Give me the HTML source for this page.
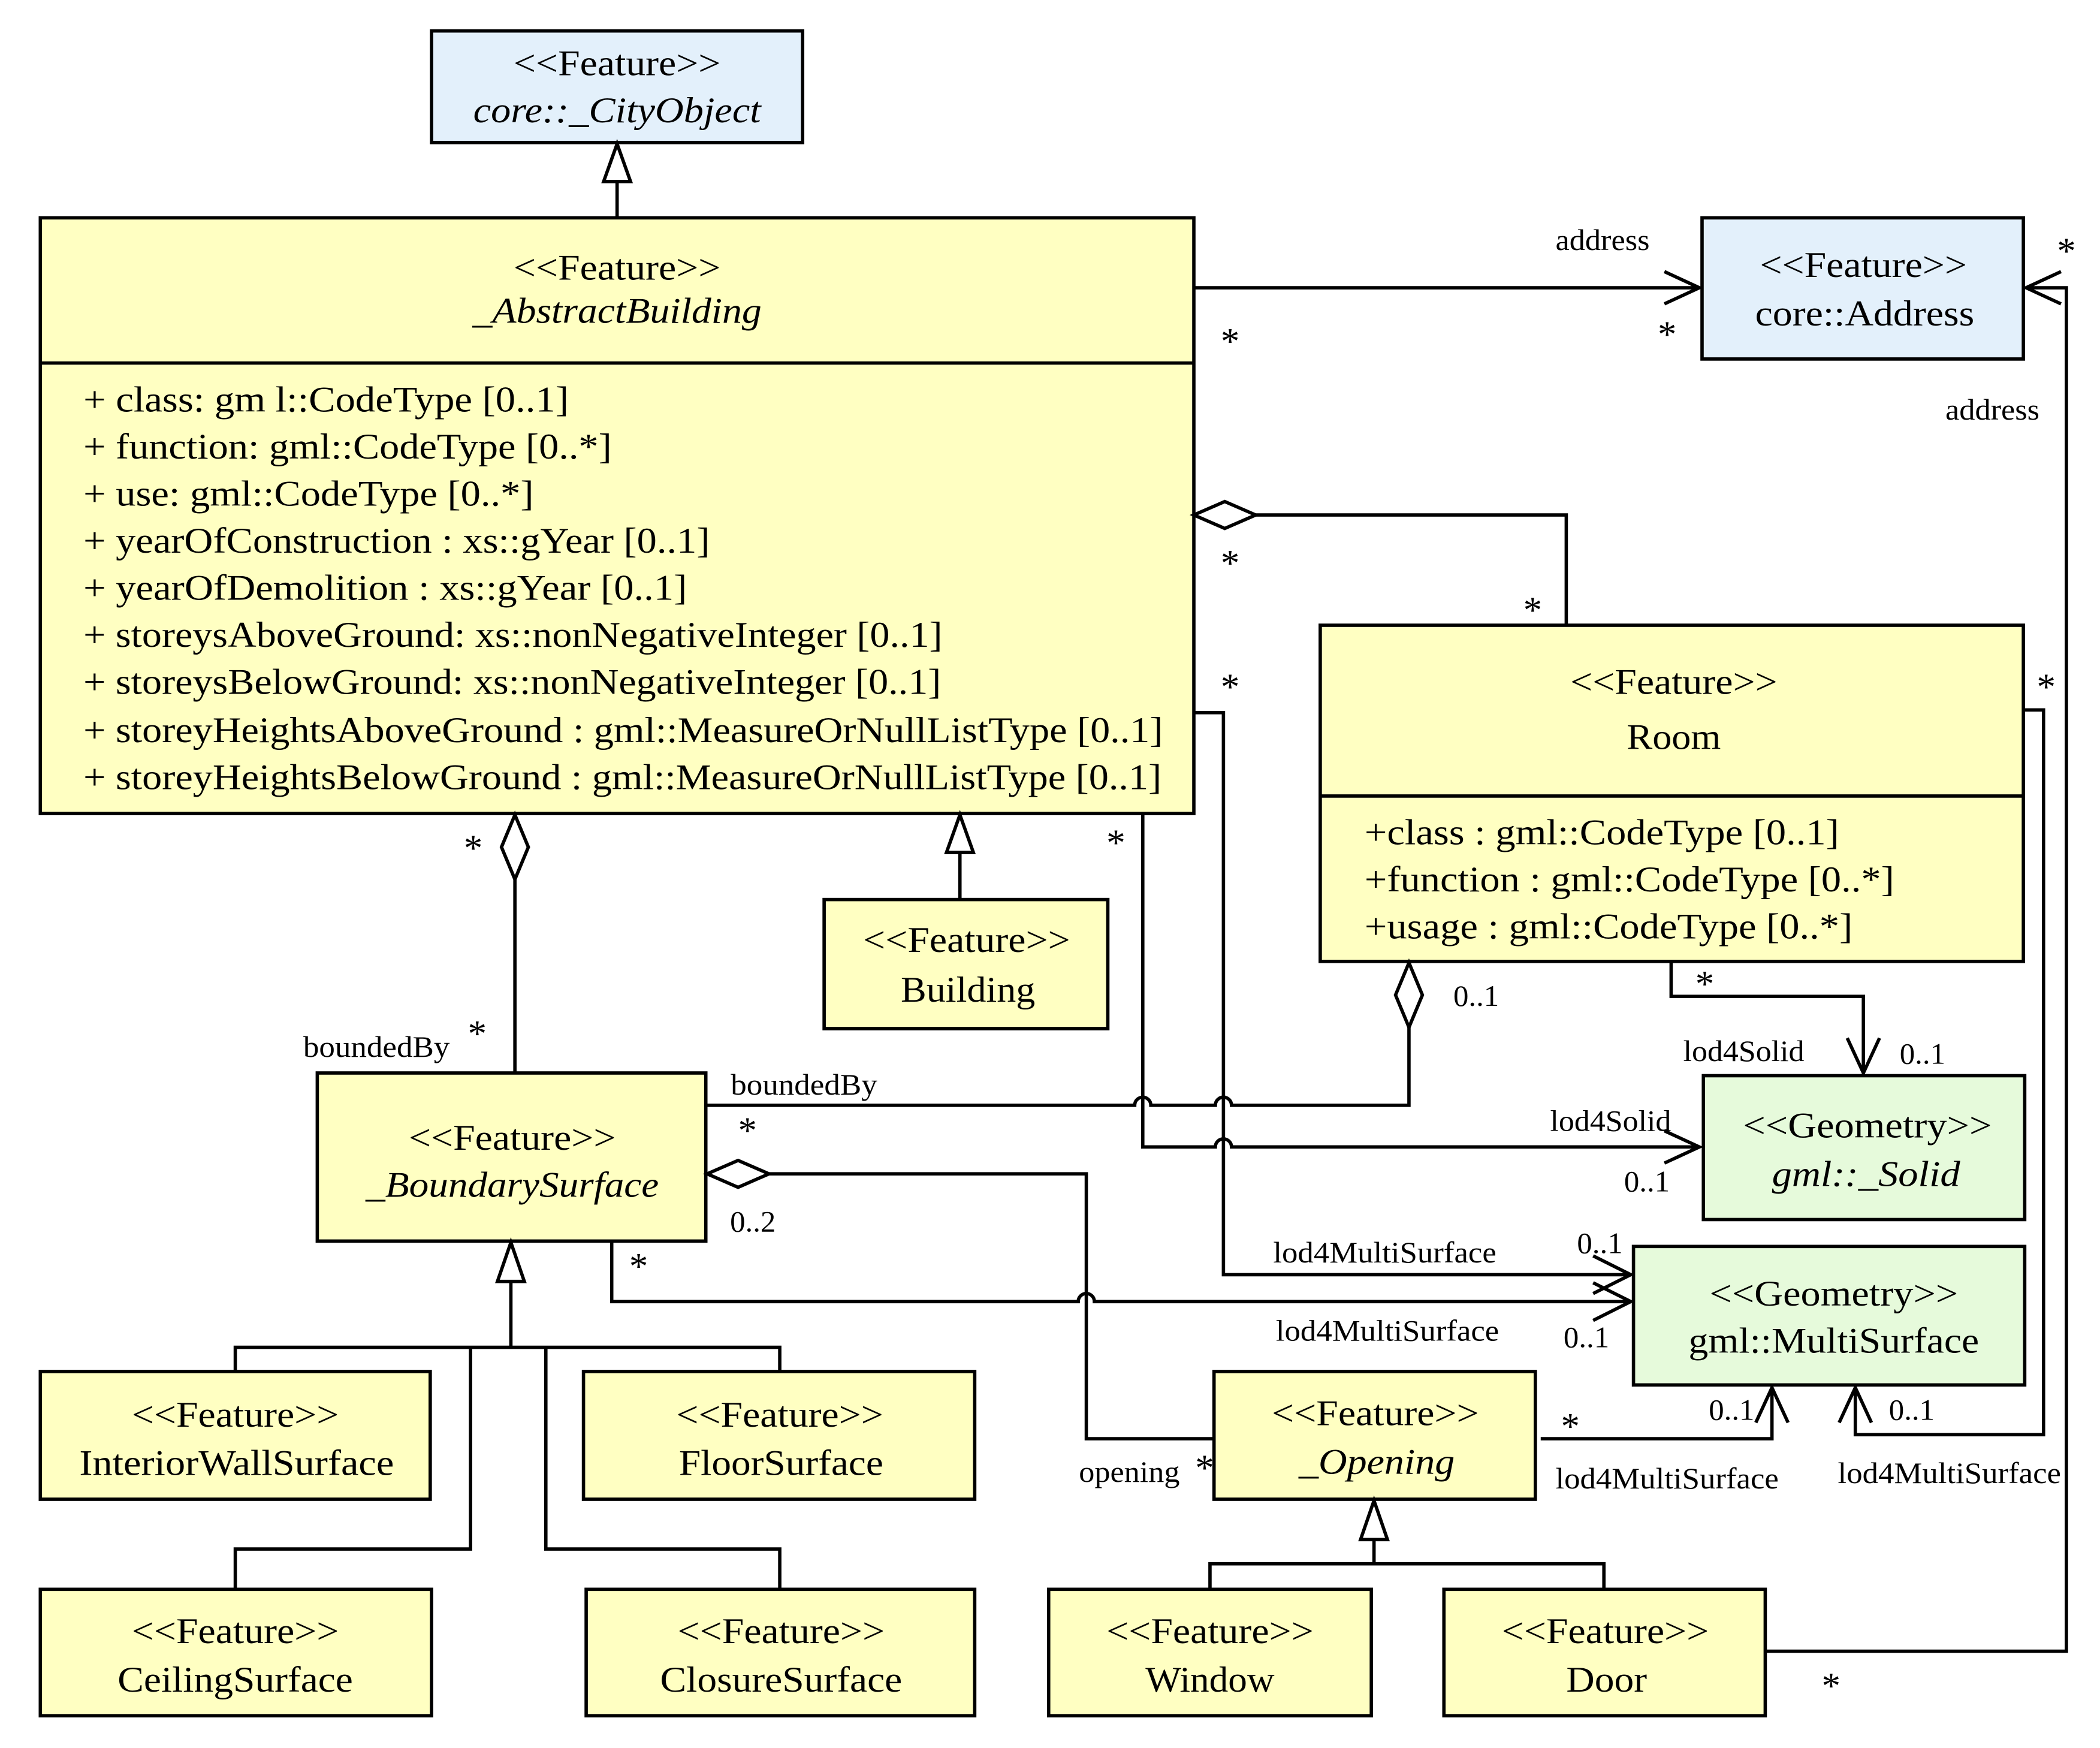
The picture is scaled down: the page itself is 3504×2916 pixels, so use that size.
<!DOCTYPE html>
<html><head><meta charset="utf-8"><style>html,body{margin:0;padding:0;background:#fff}svg{display:block}</style></head>
<body>
<svg xmlns="http://www.w3.org/2000/svg" width="3504" height="2916" viewBox="0 0 1562 1300" preserveAspectRatio="none" font-family="'Liberation Serif', serif" fill="#000">
<g stroke="#000" stroke-width="2.5">
<rect x="321" y="23" width="276" height="83" fill="#e3f0fb"/>
<rect x="30" y="162" width="858" height="443" fill="#ffffc2"/>
<line x1="30" y1="270" x2="888" y2="270"/>
<rect x="1266" y="162" width="239" height="105" fill="#e3f0fb"/>
<rect x="982" y="465" width="523" height="250" fill="#ffffc2"/>
<line x1="982" y1="592" x2="1505" y2="592"/>
<rect x="1267" y="800" width="239" height="107" fill="#e6fadb"/>
<rect x="1215" y="927" width="291" height="103" fill="#e6fadb"/>
<rect x="613" y="669" width="211" height="96" fill="#ffffc2"/>
<rect x="236" y="798" width="289" height="125" fill="#ffffc2"/>
<rect x="30" y="1020" width="290" height="95" fill="#ffffc2"/>
<rect x="434" y="1020" width="291" height="95" fill="#ffffc2"/>
<rect x="30" y="1182" width="291" height="94" fill="#ffffc2"/>
<rect x="436" y="1182" width="289" height="94" fill="#ffffc2"/>
<rect x="903" y="1020" width="239" height="95" fill="#ffffc2"/>
<rect x="780" y="1182" width="240" height="94" fill="#ffffc2"/>
<rect x="1074" y="1182" width="239" height="94" fill="#ffffc2"/>
</g>
<g stroke="#000" stroke-width="2.5" fill="none">
<line x1="459" y1="162" x2="459" y2="135"/><polygon points="459,107 449,135 469,135" fill="#fff"/>
<line x1="714" y1="669" x2="714" y2="634"/><polygon points="714,606 704,634 724,634" fill="#fff"/>
<polygon points="380,924 370,953 390,953" fill="#fff"/>
<path d="M380,953 V1002 M175,1020 V1002 H580 V1020 M350,1002 V1152 H175 V1182 M406,1002 V1152 H580 V1182"/>
<polygon points="1022,1116 1012,1145 1032,1145" fill="#fff"/>
<path d="M1022,1145 V1163 M900,1182 V1163 H1193 V1182"/>
<path d="M888,214 H1264 M1238,202 L1264,214 L1238,226"/>
<path d="M1313,1228 H1537 V214 H1507 M1533,202 L1507,214 L1533,226"/>
<polygon points="888,383 911,373 934,383 911,393" fill="#fff"/>
<path d="M934,383 H1165 V465"/>
<path d="M888,530 H910 V948 H1213 M1185,934 L1213,948 L1185,962"/>
<path d="M850,605 V853 H904 a6,6 0 0 1 12,0 H1264 M1238,841 L1264,853 L1238,865"/>
<path d="M1243,715 V741 H1386 V798 M1374,772 L1386,798 L1398,772"/>
<polygon points="1048,716 1038,740 1048,764 1058,740" fill="#fff"/>
<path d="M1048,764 V822 H916 a6,6 0 0 0 -12,0 H856 a6,6 0 0 0 -12,0 H526"/>
<path d="M1505,528 H1520 V1067 H1380 V1032 M1368,1058 L1380,1032 L1392,1058"/>
<polygon points="383,606 373,630 383,654 393,630" fill="#fff"/>
<path d="M383,654 V798"/>
<polygon points="526,873 549,863 572,873 549,883" fill="#fff"/>
<path d="M572,873 H808 V1070 H903"/>
<path d="M455,923 V968 H802 a6,6 0 0 1 12,0 H1213 M1185,954 L1213,968 L1185,982"/>
<path d="M1146,1070 H1318 V1032 M1306,1058 L1318,1032 L1330,1058"/>
</g>
<g font-size="27" text-anchor="middle">
<text lengthAdjust="spacingAndGlyphs" x="459" y="56" textLength="154">&lt;&lt;Feature&gt;&gt;</text><text lengthAdjust="spacingAndGlyphs" x="459" y="91" font-style="italic" textLength="214">core::_CityObject</text>
<text lengthAdjust="spacingAndGlyphs" x="459" y="208" textLength="154">&lt;&lt;Feature&gt;&gt;</text><text lengthAdjust="spacingAndGlyphs" x="459" y="240" font-style="italic" textLength="215">_AbstractBuilding</text>
<text lengthAdjust="spacingAndGlyphs" x="1386" y="206" textLength="154">&lt;&lt;Feature&gt;&gt;</text><text lengthAdjust="spacingAndGlyphs" x="1387" y="242" textLength="163">core::Address</text>
<text lengthAdjust="spacingAndGlyphs" x="1245" y="516" textLength="154">&lt;&lt;Feature&gt;&gt;</text><text lengthAdjust="spacingAndGlyphs" x="1245" y="557" textLength="70">Room</text>
<text lengthAdjust="spacingAndGlyphs" x="1389" y="846" textLength="185">&lt;&lt;Geometry&gt;&gt;</text><text lengthAdjust="spacingAndGlyphs" x="1388" y="882" font-style="italic" textLength="140">gml::_Solid</text>
<text lengthAdjust="spacingAndGlyphs" x="1364" y="971" textLength="185">&lt;&lt;Geometry&gt;&gt;</text><text lengthAdjust="spacingAndGlyphs" x="1364" y="1006" textLength="216">gml::MultiSurface</text>
<text lengthAdjust="spacingAndGlyphs" x="719" y="708" textLength="154">&lt;&lt;Feature&gt;&gt;</text><text lengthAdjust="spacingAndGlyphs" x="720" y="745" textLength="100">Building</text>
<text lengthAdjust="spacingAndGlyphs" x="381" y="855" textLength="154">&lt;&lt;Feature&gt;&gt;</text><text lengthAdjust="spacingAndGlyphs" x="381" y="890" font-style="italic" textLength="218">_BoundarySurface</text>
<text lengthAdjust="spacingAndGlyphs" x="175" y="1061" textLength="154">&lt;&lt;Feature&gt;&gt;</text><text lengthAdjust="spacingAndGlyphs" x="176" y="1097" textLength="234">InteriorWallSurface</text>
<text lengthAdjust="spacingAndGlyphs" x="580" y="1061" textLength="154">&lt;&lt;Feature&gt;&gt;</text><text lengthAdjust="spacingAndGlyphs" x="581" y="1097" textLength="152">FloorSurface</text>
<text lengthAdjust="spacingAndGlyphs" x="175" y="1222" textLength="154">&lt;&lt;Feature&gt;&gt;</text><text lengthAdjust="spacingAndGlyphs" x="175" y="1258" textLength="175">CeilingSurface</text>
<text lengthAdjust="spacingAndGlyphs" x="581" y="1222" textLength="154">&lt;&lt;Feature&gt;&gt;</text><text lengthAdjust="spacingAndGlyphs" x="581" y="1258" textLength="180">ClosureSurface</text>
<text lengthAdjust="spacingAndGlyphs" x="1023" y="1060" textLength="154">&lt;&lt;Feature&gt;&gt;</text><text lengthAdjust="spacingAndGlyphs" x="1024" y="1096" font-style="italic" textLength="116">_Opening</text>
<text lengthAdjust="spacingAndGlyphs" x="900" y="1222" textLength="154">&lt;&lt;Feature&gt;&gt;</text><text lengthAdjust="spacingAndGlyphs" x="900" y="1258" textLength="96">Window</text>
<text lengthAdjust="spacingAndGlyphs" x="1194" y="1222" textLength="154">&lt;&lt;Feature&gt;&gt;</text><text lengthAdjust="spacingAndGlyphs" x="1195" y="1258" textLength="60">Door</text>
</g>
<g font-size="27">
<text lengthAdjust="spacingAndGlyphs" x="62" y="306" textLength="361">+ class: gm l::CodeType [0..1]</text>
<text lengthAdjust="spacingAndGlyphs" x="62" y="341" textLength="393">+ function: gml::CodeType [0..*]</text>
<text lengthAdjust="spacingAndGlyphs" x="62" y="376" textLength="335">+ use: gml::CodeType [0..*]</text>
<text lengthAdjust="spacingAndGlyphs" x="62" y="411" textLength="466">+ yearOfConstruction : xs::gYear [0..1]</text>
<text lengthAdjust="spacingAndGlyphs" x="62" y="446" textLength="449">+ yearOfDemolition : xs::gYear [0..1]</text>
<text lengthAdjust="spacingAndGlyphs" x="62" y="481" textLength="639">+ storeysAboveGround: xs::nonNegativeInteger [0..1]</text>
<text lengthAdjust="spacingAndGlyphs" x="62" y="516" textLength="638">+ storeysBelowGround: xs::nonNegativeInteger [0..1]</text>
<text lengthAdjust="spacingAndGlyphs" x="62" y="552" textLength="803">+ storeyHeightsAboveGround : gml::MeasureOrNullListType [0..1]</text>
<text lengthAdjust="spacingAndGlyphs" x="62" y="587" textLength="802">+ storeyHeightsBelowGround : gml::MeasureOrNullListType [0..1]</text>
<text lengthAdjust="spacingAndGlyphs" x="1015" y="628" textLength="353">+class : gml::CodeType [0..1]</text>
<text lengthAdjust="spacingAndGlyphs" x="1015" y="663" textLength="394">+function : gml::CodeType [0..*]</text>
<text lengthAdjust="spacingAndGlyphs" x="1015" y="698" textLength="363">+usage : gml::CodeType [0..*]</text>
</g>
<g font-size="22" text-anchor="middle">
<text lengthAdjust="spacingAndGlyphs" x="1192" y="186" textLength="70">address</text>
<text lengthAdjust="spacingAndGlyphs" x="1482" y="312" textLength="70">address</text>
<text lengthAdjust="spacingAndGlyphs" x="280" y="786" textLength="109">boundedBy</text>
<text lengthAdjust="spacingAndGlyphs" x="598" y="814" textLength="109">boundedBy</text>
<text lengthAdjust="spacingAndGlyphs" x="1297" y="789" textLength="90">lod4Solid</text>
<text lengthAdjust="spacingAndGlyphs" x="1198" y="841" textLength="90">lod4Solid</text>
<text lengthAdjust="spacingAndGlyphs" x="1030" y="939" textLength="166">lod4MultiSurface</text>
<text lengthAdjust="spacingAndGlyphs" x="1032" y="997" textLength="166">lod4MultiSurface</text>
<text lengthAdjust="spacingAndGlyphs" x="1240" y="1107" textLength="166">lod4MultiSurface</text>
<text lengthAdjust="spacingAndGlyphs" x="1450" y="1103" textLength="166">lod4MultiSurface</text>
<text lengthAdjust="spacingAndGlyphs" x="840" y="1102" textLength="75">opening</text>
<text lengthAdjust="spacingAndGlyphs" x="1098" y="748" textLength="34">0..1</text>
<text lengthAdjust="spacingAndGlyphs" x="1430" y="791" textLength="34">0..1</text>
<text lengthAdjust="spacingAndGlyphs" x="1225" y="886" textLength="34">0..1</text>
<text lengthAdjust="spacingAndGlyphs" x="1190" y="932" textLength="34">0..1</text>
<text lengthAdjust="spacingAndGlyphs" x="1180" y="1002" textLength="34">0..1</text>
<text lengthAdjust="spacingAndGlyphs" x="1288" y="1056" textLength="34">0..1</text>
<text lengthAdjust="spacingAndGlyphs" x="1422" y="1056" textLength="34">0..1</text>
<text lengthAdjust="spacingAndGlyphs" x="560" y="916" textLength="34">0..2</text>
</g>
<g font-size="28" text-anchor="middle">
<text x="915" y="263">*</text>
<text x="1240" y="258">*</text>
<text x="1537" y="196">*</text>
<text x="915" y="428">*</text>
<text x="1140" y="463">*</text>
<text x="915" y="520">*</text>
<text x="1522" y="520">*</text>
<text x="830" y="636">*</text>
<text x="352" y="640">*</text>
<text x="355" y="778">*</text>
<text x="1268" y="741">*</text>
<text x="556" y="850">*</text>
<text x="475" y="951">*</text>
<text x="896" y="1101">*</text>
<text x="1168" y="1070">*</text>
<text x="1362" y="1263">*</text>
</g>
</svg>
</body></html>
